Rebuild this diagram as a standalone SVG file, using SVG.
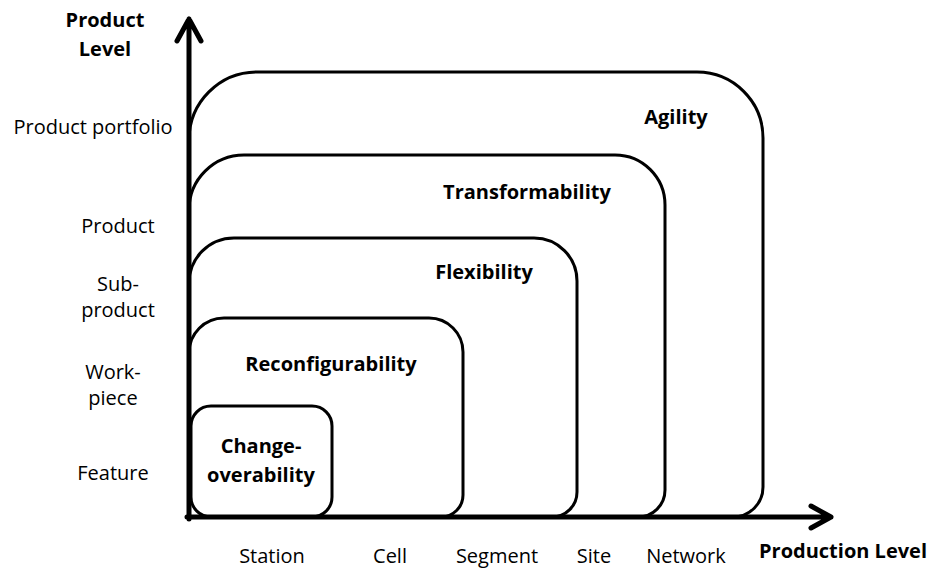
<svg xmlns="http://www.w3.org/2000/svg" width="929" height="572" viewBox="0 0 929 572">
<style>
.box{fill:none;stroke:#000;stroke-width:3}
.ax{fill:none;stroke:#000;stroke-width:5;stroke-linecap:round;stroke-linejoin:round}
text{font-family:"Open Sans",Lato,"Liberation Sans",sans-serif;font-size:20px;fill:#000;text-anchor:middle}
.b{font-weight:bold}
</style>
<rect width="929" height="572" fill="#fff"/>
<g id="agility"><path class="box" d="M189,517 V140 A68,68 0 0 1 257,72 H697 A66,66 0 0 1 763,138 V487 A30,30 0 0 1 733,517"/><text class="b" x="676" y="124">Agility</text></g>
<g id="transformability"><path class="box" d="M189,517 V210 A55,55 0 0 1 244,155 H615 A50,50 0 0 1 665,205 V490 A27,27 0 0 1 638,517"/><text class="b" x="527" y="199">Transformability</text></g>
<g id="flexibility"><path class="box" d="M189,517 V283 A45,45 0 0 1 234,238 H534 A43,43 0 0 1 577,281 V492 A25,25 0 0 1 552,517"/><text class="b" x="484" y="279">Flexibility</text></g>
<g id="reconfigurability"><path class="box" d="M189,517 V353 A35,35 0 0 1 224,318 H429 A34,34 0 0 1 463,352 V495 A22,22 0 0 1 441,517"/><text class="b" x="331" y="371">Reconfigurability</text></g>
<g id="changeoverability"><rect class="box" x="191" y="406" width="141" height="111" rx="20"/><text class="b" x="261" y="453">Change-</text><text class="b" x="261" y="482">overability</text></g>
<g id="axes">
<path class="ax" d="M189,519 V19 M177,41 L189,19 L201,41"/>
<path class="ax" d="M187,517 H831 M811,506 L831,517 L811,528"/>
</g>
<g id="labels">
<text class="b" x="105" y="27">Product</text>
<text class="b" x="105" y="56">Level</text>
<text x="93" y="134">Product portfolio</text>
<text x="118" y="233">Product</text>
<text x="118" y="291">Sub-</text>
<text x="118" y="317">product</text>
<text x="113" y="379">Work-</text>
<text x="113" y="405">piece</text>
<text x="113" y="480">Feature</text>
<text x="272" y="563">Station</text>
<text x="390" y="563">Cell</text>
<text x="497" y="563">Segment</text>
<text x="594" y="563">Site</text>
<text x="686" y="563">Network</text>
<text class="b" x="843" y="558">Production Level</text>
</g>
</svg>
